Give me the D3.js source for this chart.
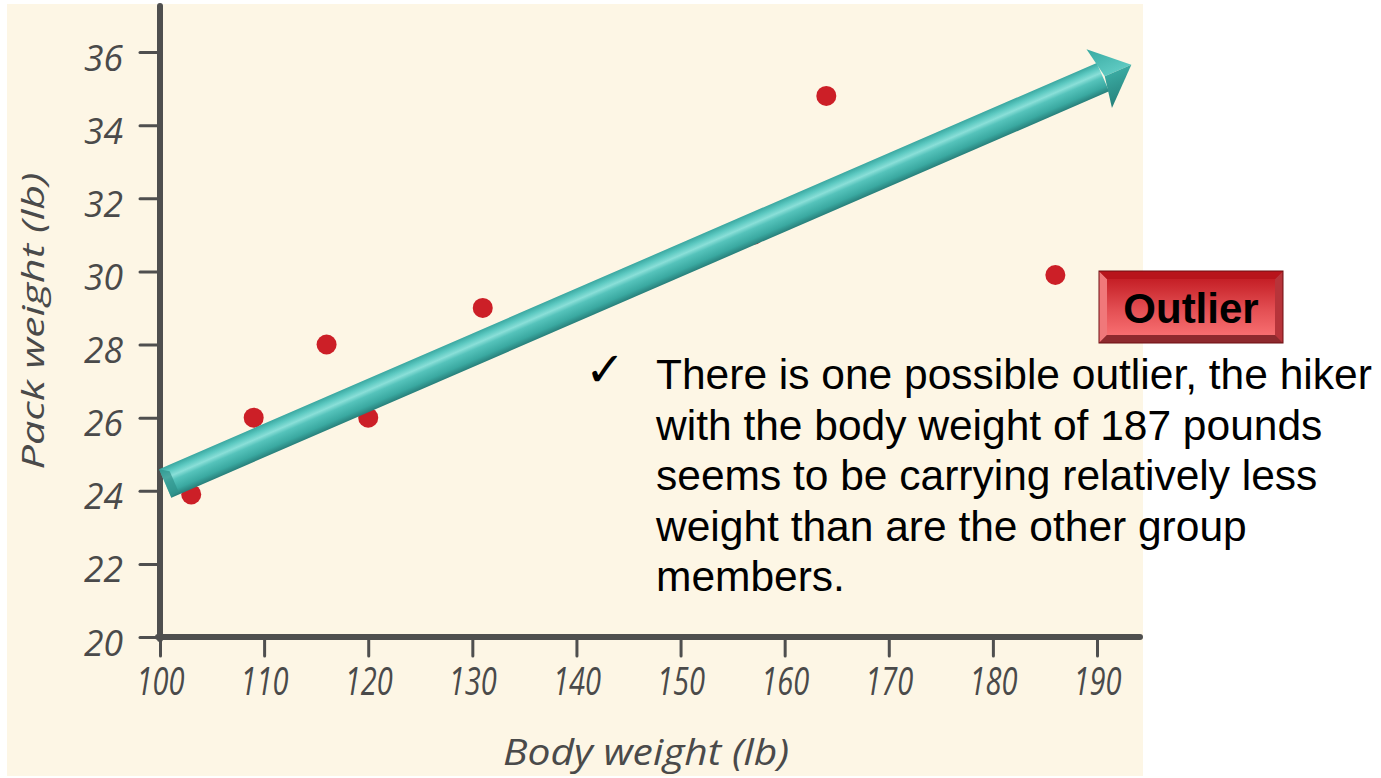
<!DOCTYPE html>
<html><head><meta charset="utf-8">
<script src="https://cdn.jsdelivr.net/npm/d3@7"></script>
<style>body{margin:0;background:#fff;} svg{display:block;}</style>
</head><body>
<svg id="chart" width="1381" height="778"></svg>
<script>
// ---- data ----
const bodyWeight = [103, 109, 116, 120, 131, 157, 164, 186];
const packWeight = [23.9, 26, 28, 26, 29, 31, 34.8, 29.9];
const xTicks = [100, 110, 120, 130, 140, 150, 160, 170, 180, 190];
const yTicks = [20, 22, 24, 26, 28, 30, 32, 34, 36];
const trendStart = [100.5, 24.2];
const trendEnd = [193.3, 35.65];
const xTitle = "Body weight (lb)";
const yTitle = "Pack weight (lb)";
const badgeText = "Outlier";
const noteLines = [
  "There is one possible outlier, the hiker",
  "with the body weight of 187 pounds",
  "seems to be carrying relatively less",
  "weight than are the other group",
  "members."
];

// ---- layout ----
const svg = d3.select("#chart");
const panel = {x: 7, y: 4, w: 1136, h: 772};
const x = d3.scaleLinear().domain([100, 190]).range([160, 1097]);
const y = d3.scaleLinear().domain([20, 36]).range([637, 52]);
const axisColor = "#4f4f4f";
const handFont = "'Open Sans', 'DejaVu Sans', sans-serif";

const defs = svg.append("defs");
function grad(id, stops) {
  const g = defs.append("linearGradient").attr("id", id)
    .attr("x1", 0).attr("y1", 0).attr("x2", 0).attr("y2", 1);
  stops.forEach(([o, c]) => g.append("stop").attr("offset", o).attr("stop-color", c));
}
grad("shaft", [[0, "#3aa7a0"], [0.18, "#5cc9c1"], [0.35, "#8adfd8"], [0.5, "#55c3bb"], [0.8, "#3aa9a1"], [1, "#287f7a"]]);
grad("headUp", [[0, "#38aaa2"], [1, "#5fcac2"]]);
grad("headDown", [[0, "#3aa9a1"], [1, "#25807a"]]);
grad("badgeOuter", [[0, "#a9121a"], [1, "#c23b40"]]);
grad("badgeInner", [[0, "#c51f26"], [0.55, "#e34f53"], [1, "#f76e70"]]);

// background panel
svg.append("rect").attr("x", panel.x).attr("y", panel.y).attr("width", panel.w).attr("height", panel.h)
  .attr("fill", "#fdf6e5");

// ---- axes ----
const yAxis = svg.append("g").attr("transform", `translate(${x(100)},0)`)
  .call(d3.axisLeft(y).tickValues(yTicks).tickSize(20).tickPadding(17).tickFormat(d3.format("d")));
const xAxis = svg.append("g").attr("transform", `translate(0,${y(20)})`)
  .call(d3.axisBottom(x).tickValues(xTicks).tickSize(19).tickPadding(12).tickFormat(d3.format("d")));
[yAxis, xAxis].forEach(a => {
  a.select(".domain").remove();
  a.selectAll(".tick line").attr("stroke", axisColor).attr("stroke-width", 3).attr("stroke-linecap", "round");
  a.selectAll(".tick text").attr("fill", "#4a4a4a").style("font-family", handFont)
    .style("font-style", "italic").attr("lengthAdjust", "spacingAndGlyphs");
});
yAxis.selectAll(".tick text").style("font-size", "36px").attr("dy", "0.5em").attr("textLength", 39);
xAxis.selectAll(".tick text").style("font-size", "38px").attr("textLength", 48);

// axis lines
svg.append("line").attr("x1", x(100)).attr("x2", x(100)).attr("y1", y(20) + 2).attr("y2", panel.y + 2)
  .attr("stroke", axisColor).attr("stroke-width", 6).attr("stroke-linecap", "round");
svg.append("line").attr("x1", x(100) - 2).attr("x2", panel.x + panel.w - 3).attr("y1", y(20)).attr("y2", y(20))
  .attr("stroke", axisColor).attr("stroke-width", 6).attr("stroke-linecap", "round");

// axis titles
svg.append("text").attr("x", 646).attr("y", 765).attr("text-anchor", "middle")
  .attr("fill", "#4a4a4a").style("font-family", handFont).style("font-style", "italic").style("font-size", "36px")
  .attr("textLength", 286).attr("lengthAdjust", "spacingAndGlyphs").text(xTitle);
svg.append("text").attr("transform", "translate(44,321) rotate(-90)").attr("text-anchor", "middle")
  .attr("fill", "#4a4a4a").style("font-family", handFont).style("font-style", "italic").style("font-size", "31px")
  .attr("textLength", 297).attr("lengthAdjust", "spacingAndGlyphs").text(yTitle);

// ---- points ----
const pts = bodyWeight.map((b, i) => ({b, p: packWeight[i]}));
svg.append("g").selectAll("circle").data(pts).join("circle")
  .attr("cx", d => x(d.b)).attr("cy", d => y(d.p)).attr("r", 10).attr("fill", "#cc1f27");

// ---- trend arrow ----
const p0 = [x(trendStart[0]), y(trendStart[1])];
const p1 = [x(trendEnd[0]), y(trendEnd[1])];
const L = Math.hypot(p1[0] - p0[0], p1[1] - p0[1]);
const ang = Math.atan2(p1[1] - p0[1], p1[0] - p0[0]) * 180 / Math.PI;
const arrow = svg.append("g").attr("transform", `translate(${p0[0]},${p0[1]}) rotate(${ang})`);
const sw = 31, headLen = 35, headHalf = 32;
arrow.append("rect").attr("x", 0).attr("y", -sw / 2).attr("width", L - headLen + 4).attr("height", sw)
  .attr("fill", "url(#shaft)");
arrow.append("polygon").attr("points", `0,${-sw/2} 9,${-sw/2+6} 9,${sw/2-4} 0,${sw/2}`).attr("fill", "#2f918a").attr("opacity", 0.7);
arrow.append("polygon").attr("points", `${L-headLen},${-headHalf} ${L},0 ${L-headLen+6},0`).attr("fill", "url(#headUp)");
arrow.append("polygon").attr("points", `${L-headLen+6},0 ${L},0 ${L-headLen},${headHalf}`).attr("fill", "url(#headDown)");

// ---- badge ----
const bx = 1099, by = 271, bw = 184, bh = 72, inset = 8;
svg.append("rect").attr("x", bx).attr("y", by).attr("width", bw).attr("height", bh).attr("fill", "url(#badgeOuter)");
svg.append("polygon").attr("points", `${bx},${by} ${bx+inset},${by+inset} ${bx+inset},${by+bh-inset} ${bx},${by+bh}`).attr("fill", "#f0787a");
svg.append("polygon").attr("points", `${bx+bw},${by} ${bx+bw-inset},${by+inset} ${bx+bw-inset},${by+bh-inset} ${bx+bw},${by+bh}`).attr("fill", "#b7343a");
svg.append("polygon").attr("points", `${bx},${by+bh} ${bx+inset},${by+bh-inset} ${bx+bw-inset},${by+bh-inset} ${bx+bw},${by+bh}`).attr("fill", "#8e2a2e");
svg.append("polygon").attr("points", `${bx},${by} ${bx+inset},${by+inset} ${bx+bw-inset},${by+inset} ${bx+bw},${by}`).attr("fill", "#b8141b");
svg.append("rect").attr("x", bx + inset).attr("y", by + inset).attr("width", bw - 2 * inset).attr("height", bh - 2 * inset).attr("fill", "url(#badgeInner)");
svg.append("rect").attr("x", bx).attr("y", by).attr("width", bw).attr("height", bh).attr("fill", "none").attr("stroke", "#6e0f13").attr("stroke-width", 1);
svg.append("text").attr("x", bx + bw / 2).attr("y", 323).attr("text-anchor", "middle")
  .style("font-family", "'Liberation Sans', Arial, sans-serif").style("font-weight", "bold").style("font-size", "42px")
  .attr("fill", "#000").text(badgeText);

// ---- note ----
svg.append("text").attr("x", 585).attr("y", 386)
  .style("font-family", "'DejaVu Sans', sans-serif").style("font-size", "48px").style("font-weight", "bold")
  .attr("fill", "#000").text("\u2713");
const note = svg.append("g");
note.selectAll("text").data(noteLines).join("text")
  .attr("x", 656).attr("y", (d, i) => 389 + i * 50.5)
  .style("font-family", "'Liberation Sans', Arial, sans-serif").style("font-size", "42.5px").attr("fill", "#000")
  .text(d => d);
</script>
</body></html>
